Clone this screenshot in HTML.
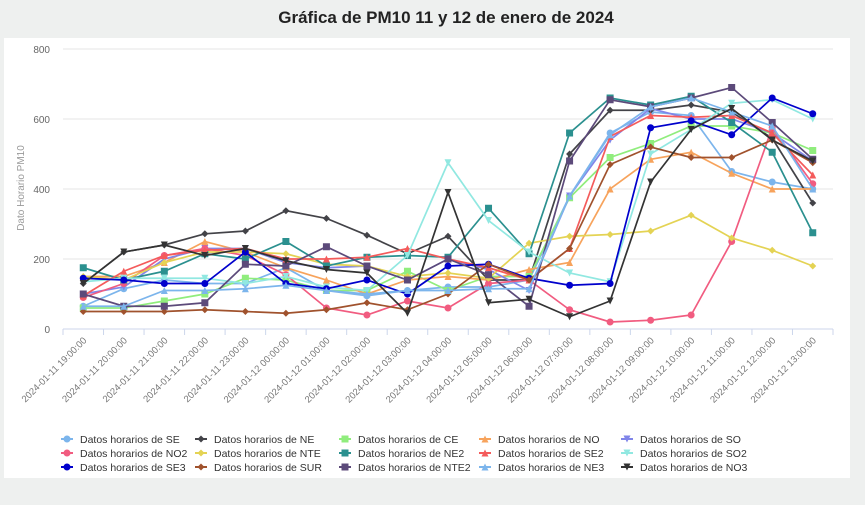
<!DOCTYPE html>
<html><head><meta charset="utf-8"><style>
html,body{margin:0;padding:0;width:865px;height:505px;background:#eef0ef;overflow:hidden;font-family:"Liberation Sans",sans-serif}
</style></head><body>
<svg id="s" width="865" height="505" xmlns="http://www.w3.org/2000/svg">
<rect x="4" y="38" width="846" height="440" fill="#fff"/>
<text x="446" y="23" text-anchor="middle" font-family="Liberation Sans" font-weight="bold" font-size="17" fill="#222">Gráfica de PM10 11 y 12 de enero de 2024</text>
<text transform="translate(24,188) rotate(-90)" text-anchor="middle" font-size="10" fill="#999">Dato Horario PM10</text>
</svg>
<script>
const s=document.getElementById('s');const NS='http://www.w3.org/2000/svg';
function el(t,a,txt){const e=document.createElementNS(NS,t);for(const k in a)e.setAttribute(k,a[k]);if(txt!=null)e.textContent=txt;s.appendChild(e);return e;}
const L=63,R=833,y0=329,yTop=49;const W=(R-L)/19;
const Y=v=>y0-(v/800)*(y0-yTop);const X=i=>L+W*(i+0.5);
[0,200,400,600,800].forEach(v=>{if(v>0)el('line',{x1:L,x2:R,y1:Y(v),y2:Y(v),stroke:'#e6e6e6'});el('text',{x:50,y:Y(v)+4,'text-anchor':'end','font-size':'10',fill:'#666'},v);});
el('line',{x1:L,x2:R,y1:y0,y2:y0,stroke:'#ccd6eb'});
for(let i=0;i<=19;i++)el('line',{x1:L+W*i,x2:L+W*i,y1:y0,y2:y0+6,stroke:'#ccd6eb'});
const labs=[];for(let h=19;h<=23;h++)labs.push('2024-01-11 '+h+':00:00');for(let h=0;h<=13;h++)labs.push('2024-01-12 '+String(h).padStart(2,'0')+':00:00');
labs.forEach((t,i)=>{const x=X(i)+4,y=y0+12;el('text',{x:x,y:y,'text-anchor':'end','font-size':'9.5',fill:'#777',transform:`rotate(-45 ${x} ${y})`},t);});
const ser=[
['SE','#7cb5ec','c',[65,115,140,130,130,175,110,95,110,120,120,140,380,560,620,610,450,420,400]],
['NE','#434348','d',[130,220,240,272,280,338,316,268,215,265,140,140,500,625,625,640,620,545,360]],
['CE','#90ed7d','s',[60,60,80,100,145,140,110,110,165,110,150,150,375,490,530,580,580,560,510]],
['NO','#f7a35c','t',[150,150,190,250,220,175,140,100,140,150,140,170,190,400,485,505,445,400,400]],
['SO','#8085e9','v',[100,120,200,230,230,190,175,180,140,200,170,110,380,540,630,600,600,560,480]],
['NO2','#f15c80','c',[90,130,210,230,210,155,60,40,80,60,130,140,55,20,25,40,250,575,415]],
['NTE','#e4d354','d',[150,140,190,220,220,215,185,180,150,160,145,245,265,270,280,325,260,225,180]],
['NE2','#2b908f','s',[175,140,165,215,200,250,180,205,210,205,345,215,560,660,640,665,590,505,275]],
['SE2','#f45b5b','t',[95,165,210,225,230,200,200,205,230,200,175,140,230,550,610,605,610,560,440]],
['SO2','#91e8e1','v',[135,145,145,145,130,150,120,110,210,475,310,220,160,135,500,570,645,655,600]],
['SE3','#0000cc','c',[145,140,130,130,220,130,115,140,100,180,185,145,125,130,575,595,555,660,615]],
['SUR','#a0522d','d',[50,50,50,55,50,45,55,75,55,100,185,140,230,470,520,490,490,540,475]],
['NTE2','#5c4a7a','s',[100,65,65,75,185,180,235,180,140,200,155,65,480,655,635,660,690,590,485]],
['NE3','#7cb5ec','t',[65,65,110,110,115,125,110,100,110,110,115,115,380,555,635,660,620,580,400]],
['NO3','#333333','v',[130,220,240,210,230,195,170,160,45,390,75,85,35,80,420,570,630,540,480]]];
function mk(x,y,t,c,r){r=r||3.5;if(t=='c')el('circle',{cx:x,cy:y,r:r,fill:c});else if(t=='s')el('rect',{x:x-r,y:y-r,width:2*r,height:2*r,fill:c});else if(t=='d')el('path',{d:`M${x} ${y-r}L${x+r} ${y}L${x} ${y+r}L${x-r} ${y}Z`,fill:c});else if(t=='t')el('path',{d:`M${x} ${y-r}L${x+r} ${y+r}L${x-r} ${y+r}Z`,fill:c});else el('path',{d:`M${x-r} ${y-r}L${x+r} ${y-r}L${x} ${y+r}Z`,fill:c});}
ser.forEach(([n,c,t,d])=>{el('polyline',{points:d.map((v,i)=>X(i)+','+Y(v)).join(' '),fill:'none',stroke:c,'stroke-width':'1.7'});d.forEach((v,i)=>mk(X(i),Y(v),t,c));});
const cols=[67,201,345,485,627];
ser.forEach(([n,c,t],k)=>{const r=Math.floor(k/5),ci=k%5;const x=cols[ci],y=439+r*14;el('line',{x1:x-6,x2:x+6,y1:y,y2:y,stroke:c,'stroke-width':2});mk(x,y,t,c,3.5);el('text',{x:x+13,y:y+4,'font-size':'10.5',fill:'#333'},'Datos horarios de '+n);});
</script>
</body></html>
